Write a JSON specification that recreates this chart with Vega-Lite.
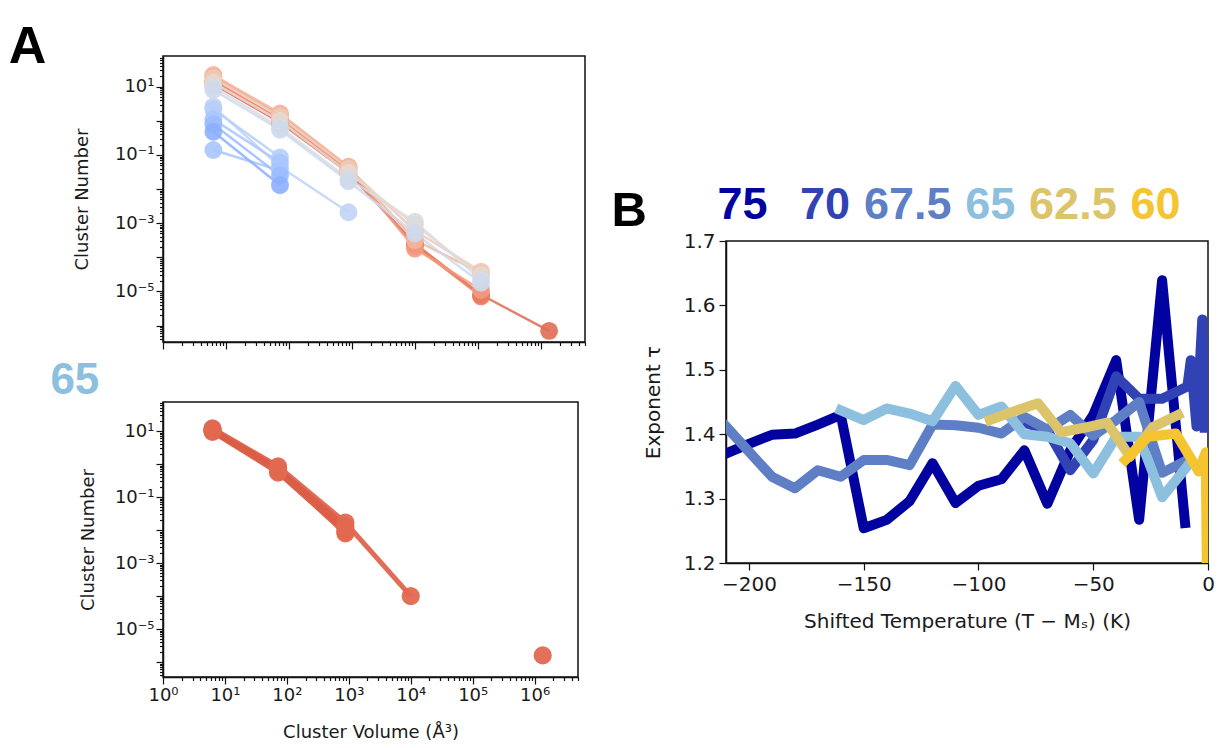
{
  "$schema": "https://vega.github.io/schema/vega-lite/v6.json",
  "background": "white",
  "padding": {"left": 8, "top": 21, "right": 5, "bottom": 5},
  "config": {
    "font": "DejaVu Sans",
    "view": {"stroke": "#111111", "strokeWidth": 1.5},
    "axis": {
      "grid": false,
      "domainColor": "#111111",
      "domainWidth": 1.5,
      "tickColor": "#111111",
      "tickWidth": 1.2,
      "labelColor": "#1a1a1a",
      "titleColor": "#1a1a1a",
      "labelFont": "DejaVu Sans",
      "titleFont": "DejaVu Sans",
      "titleFontWeight": "normal",
      "labelFlush": false,
      "labelOverlap": false
    }
  },
  "datasets": {
    "topA": [
      {"series": "t01", "volume": 6.3, "count": 12}, {"series": "t01", "volume": 72, "count": 0.9}, {"series": "t01", "volume": 880, "count": 0.03}, {"series": "t01", "volume": 10000, "count": 0.00025}, {"series": "t01", "volume": 112000, "count": 0.000008}, {"series": "t01", "volume": 1350000, "count": 0.0000007},
      {"series": "t02", "volume": 6.3, "count": 15}, {"series": "t02", "volume": 72, "count": 1.1}, {"series": "t02", "volume": 880, "count": 0.036}, {"series": "t02", "volume": 10000, "count": 0.00022}, {"series": "t02", "volume": 112000, "count": 0.0000072},
      {"series": "t03", "volume": 6.3, "count": 20}, {"series": "t03", "volume": 72, "count": 1.5}, {"series": "t03", "volume": 880, "count": 0.044}, {"series": "t03", "volume": 10000, "count": 0.00018}, {"series": "t03", "volume": 112000, "count": 0.000011},
      {"series": "t04", "volume": 6.3, "count": 22}, {"series": "t04", "volume": 72, "count": 1.65}, {"series": "t04", "volume": 880, "count": 0.045}, {"series": "t04", "volume": 10000, "count": 0.00032}, {"series": "t04", "volume": 112000, "count": 0.000035},
      {"series": "t05", "volume": 6.3, "count": 18}, {"series": "t05", "volume": 72, "count": 1.35}, {"series": "t05", "volume": 880, "count": 0.04}, {"series": "t05", "volume": 10000, "count": 0.0006}, {"series": "t05", "volume": 112000, "count": 0.000038},
      {"series": "t06", "volume": 6.3, "count": 13}, {"series": "t06", "volume": 72, "count": 1.0}, {"series": "t06", "volume": 880, "count": 0.03}, {"series": "t06", "volume": 10000, "count": 0.0009}, {"series": "t06", "volume": 112000, "count": 0.00003},
      {"series": "t07", "volume": 6.3, "count": 10}, {"series": "t07", "volume": 72, "count": 0.65}, {"series": "t07", "volume": 880, "count": 0.02}, {"series": "t07", "volume": 10000, "count": 0.0011}, {"series": "t07", "volume": 112000, "count": 0.000022},
      {"series": "t08", "volume": 6.3, "count": 8}, {"series": "t08", "volume": 72, "count": 0.55}, {"series": "t08", "volume": 880, "count": 0.017}, {"series": "t08", "volume": 10000, "count": 0.0005}, {"series": "t08", "volume": 112000, "count": 0.000018},
      {"series": "t09", "volume": 6.3, "count": 2.6}, {"series": "t09", "volume": 72, "count": 0.045}, {"series": "t09", "volume": 880, "count": 0.0021},
      {"series": "t10", "volume": 6.3, "count": 2.2}, {"series": "t10", "volume": 72, "count": 0.085},
      {"series": "t11", "volume": 6.3, "count": 1.1}, {"series": "t11", "volume": 72, "count": 0.06},
      {"series": "t12", "volume": 6.3, "count": 0.14}, {"series": "t12", "volume": 72, "count": 0.035},
      {"series": "t13", "volume": 6.3, "count": 0.8}, {"series": "t13", "volume": 72, "count": 0.025},
      {"series": "t14", "volume": 6.3, "count": 0.48}, {"series": "t14", "volume": 72, "count": 0.013}
    ],
    "bottomA": [
      {"series": "b1", "volume": 6.3, "count": 12}, {"series": "b1", "volume": 72, "count": 0.85}, {"series": "b1", "volume": 880, "count": 0.017}, {"series": "b1", "volume": 10000, "count": 0.0001},
      {"series": "b2", "volume": 6.3, "count": 10.5}, {"series": "b2", "volume": 72, "count": 0.7}, {"series": "b2", "volume": 880, "count": 0.013},
      {"series": "b3", "volume": 6.3, "count": 9.5}, {"series": "b3", "volume": 72, "count": 0.55}, {"series": "b3", "volume": 880, "count": 0.009},
      {"series": "b4", "volume": 6.3, "count": 11}, {"series": "b4", "volume": 72, "count": 0.75}, {"series": "b4", "volume": 880, "count": 0.011},
      {"series": "b5", "volume": 6.3, "count": 10}, {"series": "b5", "volume": 72, "count": 0.6}, {"series": "b5", "volume": 880, "count": 0.008},
      {"series": "b6", "volume": 1350000, "count": 0.0000016}
    ],
    "tau": [
      {"Ni": "75", "T": -210, "tau": 1.370}, {"Ni": "75", "T": -200, "tau": 1.385}, {"Ni": "75", "T": -190, "tau": 1.399}, {"Ni": "75", "T": -180, "tau": 1.401}, {"Ni": "75", "T": -170, "tau": 1.415}, {"Ni": "75", "T": -160, "tau": 1.430}, {"Ni": "75", "T": -150, "tau": 1.254}, {"Ni": "75", "T": -140, "tau": 1.267}, {"Ni": "75", "T": -130, "tau": 1.296}, {"Ni": "75", "T": -120, "tau": 1.355}, {"Ni": "75", "T": -110, "tau": 1.293}, {"Ni": "75", "T": -100, "tau": 1.320}, {"Ni": "75", "T": -90, "tau": 1.330}, {"Ni": "75", "T": -80, "tau": 1.375}, {"Ni": "75", "T": -70, "tau": 1.292}, {"Ni": "75", "T": -60, "tau": 1.375}, {"Ni": "75", "T": -50, "tau": 1.430}, {"Ni": "75", "T": -40, "tau": 1.515}, {"Ni": "75", "T": -30, "tau": 1.267}, {"Ni": "75", "T": -20, "tau": 1.639}, {"Ni": "75", "T": -10, "tau": 1.262},
      {"Ni": "70", "T": -80, "tau": 1.418}, {"Ni": "70", "T": -70, "tau": 1.406}, {"Ni": "70", "T": -60, "tau": 1.344}, {"Ni": "70", "T": -50, "tau": 1.391}, {"Ni": "70", "T": -40, "tau": 1.490}, {"Ni": "70", "T": -30, "tau": 1.455}, {"Ni": "70", "T": -20, "tau": 1.455}, {"Ni": "70", "T": -9, "tau": 1.474}, {"Ni": "70", "T": -7.5, "tau": 1.515}, {"Ni": "70", "T": -5, "tau": 1.412}, {"Ni": "70", "T": -2.5, "tau": 1.578}, {"Ni": "70", "T": -1.5, "tau": 1.41},
      {"Ni": "67.5", "T": -210, "tau": 1.412}, {"Ni": "67.5", "T": -200, "tau": 1.373}, {"Ni": "67.5", "T": -190, "tau": 1.334}, {"Ni": "67.5", "T": -180, "tau": 1.316}, {"Ni": "67.5", "T": -170, "tau": 1.344}, {"Ni": "67.5", "T": -160, "tau": 1.334}, {"Ni": "67.5", "T": -150, "tau": 1.360}, {"Ni": "67.5", "T": -140, "tau": 1.360}, {"Ni": "67.5", "T": -130, "tau": 1.352}, {"Ni": "67.5", "T": -120, "tau": 1.415}, {"Ni": "67.5", "T": -110, "tau": 1.414}, {"Ni": "67.5", "T": -100, "tau": 1.410}, {"Ni": "67.5", "T": -90, "tau": 1.401}, {"Ni": "67.5", "T": -80, "tau": 1.427}, {"Ni": "67.5", "T": -70, "tau": 1.407}, {"Ni": "67.5", "T": -60, "tau": 1.430}, {"Ni": "67.5", "T": -50, "tau": 1.398}, {"Ni": "67.5", "T": -40, "tau": 1.422}, {"Ni": "67.5", "T": -30, "tau": 1.450}, {"Ni": "67.5", "T": -20, "tau": 1.340}, {"Ni": "67.5", "T": -10, "tau": 1.358},
      {"Ni": "65", "T": -160, "tau": 1.437}, {"Ni": "65", "T": -150, "tau": 1.422}, {"Ni": "65", "T": -140, "tau": 1.440}, {"Ni": "65", "T": -130, "tau": 1.432}, {"Ni": "65", "T": -120, "tau": 1.420}, {"Ni": "65", "T": -110, "tau": 1.475}, {"Ni": "65", "T": -100, "tau": 1.430}, {"Ni": "65", "T": -90, "tau": 1.443}, {"Ni": "65", "T": -80, "tau": 1.400}, {"Ni": "65", "T": -70, "tau": 1.396}, {"Ni": "65", "T": -60, "tau": 1.386}, {"Ni": "65", "T": -50, "tau": 1.339}, {"Ni": "65", "T": -40, "tau": 1.396}, {"Ni": "65", "T": -30, "tau": 1.396}, {"Ni": "65", "T": -20, "tau": 1.302}, {"Ni": "65", "T": -8, "tau": 1.355},
      {"Ni": "62.5", "T": -95, "tau": 1.422}, {"Ni": "62.5", "T": -85, "tau": 1.435}, {"Ni": "62.5", "T": -74, "tau": 1.448}, {"Ni": "62.5", "T": -64, "tau": 1.403}, {"Ni": "62.5", "T": -54, "tau": 1.410}, {"Ni": "62.5", "T": -44, "tau": 1.418}, {"Ni": "62.5", "T": -34, "tau": 1.365}, {"Ni": "62.5", "T": -24, "tau": 1.411}, {"Ni": "62.5", "T": -13, "tau": 1.430},
      {"Ni": "60", "T": -36, "tau": 1.360}, {"Ni": "60", "T": -26, "tau": 1.396}, {"Ni": "60", "T": -14, "tau": 1.401}, {"Ni": "60", "T": -4, "tau": 1.342}, {"Ni": "60", "T": -1, "tau": 1.372}, {"Ni": "60", "T": 0, "tau": 1.0}
    ],
    "labels": [
      {"Ni": "75"}, {"Ni": "70"}, {"Ni": "67.5"}, {"Ni": "65"}, {"Ni": "62.5"}, {"Ni": "60"}
    ]
  },
  "resolve": {"scale": {"color": "independent"}},
  "spacing": 24,
  "hconcat": [
    {
      "title": {"text": "A", "anchor": "start", "frame": "bounds", "fontSize": 52, "font": "Liberation Sans", "fontWeight": "bold", "color": "#000000", "dx": -41, "offset": -67, "baseline": "alphabetic"},
      "spacing": 7,
      "vconcat": [
        {
          "width": 422,
          "height": 286,
          "data": {"name": "topA"},
          "encoding": {
            "x": {"field": "volume", "type": "quantitative",
              "scale": {"type": "log", "domain": [1, 5011872], "nice": false},
              "axis": {"title": null, "labels": false,
                "values": [1,2,3,4,5,6,7,8,9,10,20,30,40,50,60,70,80,90,100,200,300,400,500,600,700,800,900,1000,2000,3000,4000,5000,6000,7000,8000,9000,10000,20000,30000,40000,50000,60000,70000,80000,90000,100000,200000,300000,400000,500000,600000,700000,800000,900000,1000000,2000000,3000000,4000000,5000000],
                "tickSize": {"condition": {"test": "abs(log(datum.value)/LN10 - round(log(datum.value)/LN10)) < 1e-6", "value": 7}, "value": 3.5}}},
            "y": {"field": "count", "type": "quantitative",
              "scale": {"type": "log", "domain": [3.3e-7, 79.4], "nice": false},
              "axis": {"title": "Cluster Number", "titleFontSize": 18, "labelFontSize": 18, "titlePadding": 23,
                "values": [4e-7,5e-7,6e-7,7e-7,8e-7,9e-7,1e-6,2e-6,3e-6,4e-6,5e-6,6e-6,7e-6,8e-6,9e-6,1e-5,2e-5,3e-5,4e-5,5e-5,6e-5,7e-5,8e-5,9e-5,1e-4,2e-4,3e-4,4e-4,5e-4,6e-4,7e-4,8e-4,9e-4,0.001,0.002,0.003,0.004,0.005,0.006,0.007,0.008,0.009,0.01,0.02,0.03,0.04,0.05,0.06,0.07,0.08,0.09,0.1,0.2,0.3,0.4,0.5,0.6,0.7,0.8,0.9,1,2,3,4,5,6,7,8,9,10,20,30,40,50,60,70],
                "tickSize": {"condition": {"test": "abs(log(datum.value)/LN10 - round(log(datum.value)/LN10)) < 1e-6", "value": 7}, "value": 3.5},
                "labelExpr": "(abs(log(datum.value)/LN10 - round(log(datum.value)/LN10)) < 1e-6 && round(log(datum.value)/LN10) % 2 != 0) ? '10' + (datum.value < 1 ? '⁻' : '') + ['⁰','¹','²','³','⁴','⁵','⁶','⁷','⁸','⁹'][abs(round(log(datum.value)/LN10))] : ''"}},
            "color": {"field": "series", "type": "nominal",
              "scale": {"domain": ["t01","t02","t03","t04","t05","t06","t07","t08","t09","t10","t11","t12","t13","t14"],
                "range": ["#e16a53","#ea7b60","#f29a7e","#f5b59b","#efc9b6","#e5d8d1","#dadcdf","#cdd9ec","#c0d4f5","#b6cefa","#a9c5fe","#a9c5fe","#9abbff","#8caffe"]},
              "legend": null}
          },
          "layer": [
            {"mark": {"type": "line", "strokeWidth": 2.5, "opacity": 0.85}},
            {"mark": {"type": "circle", "size": 320, "opacity": 0.9}}
          ]
        },
        {
          "width": 415,
          "height": 275,
          "title": {"text": "65", "anchor": "start", "frame": "bounds", "fontSize": 44, "font": "Liberation Sans", "fontWeight": "bold", "color": "#8dc0de", "dx": -29, "offset": -44, "baseline": "alphabetic"},
          "data": {"name": "bottomA"},
          "encoding": {
            "x": {"field": "volume", "type": "quantitative",
              "scale": {"type": "log", "domain": [1, 5011872], "nice": false},
              "axis": {"title": "Cluster Volume (Å³)", "titleFontSize": 18, "labelFontSize": 18, "titlePadding": 19,
                "values": [1,2,3,4,5,6,7,8,9,10,20,30,40,50,60,70,80,90,100,200,300,400,500,600,700,800,900,1000,2000,3000,4000,5000,6000,7000,8000,9000,10000,20000,30000,40000,50000,60000,70000,80000,90000,100000,200000,300000,400000,500000,600000,700000,800000,900000,1000000,2000000,3000000,4000000,5000000],
                "tickSize": {"condition": {"test": "abs(log(datum.value)/LN10 - round(log(datum.value)/LN10)) < 1e-6", "value": 7}, "value": 3.5},
                "labelExpr": "(abs(log(datum.value)/LN10 - round(log(datum.value)/LN10)) < 1e-6) ? '10' + ['⁰','¹','²','³','⁴','⁵','⁶','⁷','⁸','⁹'][abs(round(log(datum.value)/LN10))] : ''"}},
            "y": {"field": "count", "type": "quantitative",
              "scale": {"type": "log", "domain": [3.55e-7, 75.9], "nice": false},
              "axis": {"title": "Cluster Number", "titleFontSize": 18, "labelFontSize": 18, "titlePadding": 17,
                "values": [4e-7,5e-7,6e-7,7e-7,8e-7,9e-7,1e-6,2e-6,3e-6,4e-6,5e-6,6e-6,7e-6,8e-6,9e-6,1e-5,2e-5,3e-5,4e-5,5e-5,6e-5,7e-5,8e-5,9e-5,1e-4,2e-4,3e-4,4e-4,5e-4,6e-4,7e-4,8e-4,9e-4,0.001,0.002,0.003,0.004,0.005,0.006,0.007,0.008,0.009,0.01,0.02,0.03,0.04,0.05,0.06,0.07,0.08,0.09,0.1,0.2,0.3,0.4,0.5,0.6,0.7,0.8,0.9,1,2,3,4,5,6,7,8,9,10,20,30,40,50,60,70],
                "tickSize": {"condition": {"test": "abs(log(datum.value)/LN10 - round(log(datum.value)/LN10)) < 1e-6", "value": 7}, "value": 3.5},
                "labelExpr": "(abs(log(datum.value)/LN10 - round(log(datum.value)/LN10)) < 1e-6 && round(log(datum.value)/LN10) % 2 != 0) ? '10' + (datum.value < 1 ? '⁻' : '') + ['⁰','¹','²','³','⁴','⁵','⁶','⁷','⁸','⁹'][abs(round(log(datum.value)/LN10))] : ''"}},
            "detail": {"field": "series", "type": "nominal"}
          },
          "layer": [
            {"mark": {"type": "line", "strokeWidth": 5, "color": "#dc5d46", "opacity": 0.9}},
            {"mark": {"type": "circle", "size": 330, "color": "#e2684f", "opacity": 0.95}}
          ]
        }
      ]
    },
    {
      "spacing": -6,
      "vconcat": [
        {
          "width": 446,
          "height": 163,
          "view": {"stroke": null},
          "title": {"text": "B", "anchor": "start", "frame": "bounds", "fontSize": 49, "font": "Liberation Sans", "fontWeight": "bold", "color": "#000000", "dx": -106, "offset": -219, "baseline": "alphabetic"},
          "data": {"name": "labels"},
          "mark": {"type": "text", "font": "Liberation Sans", "fontWeight": "bold", "fontSize": 45, "baseline": "alphabetic"},
          "encoding": {
            "x": {"field": "Ni", "type": "nominal", "sort": null, "scale": {"type": "point", "padding": 0.2}, "axis": null},
            "y": {"datum": 0, "type": "quantitative", "scale": {"domain": [0, 1]}, "axis": null},
            "text": {"field": "Ni"},
            "color": {"field": "Ni", "type": "nominal",
              "scale": {"domain": ["75","70","67.5","65","62.5","60"], "range": ["#0202a0","#3143b4","#5e7fc6","#8dc0de","#dcc46a","#f5c431"]},
              "legend": null}
          }
        },
        {
          "width": 482,
          "height": 322,
          "data": {"name": "tau"},
          "mark": {"type": "line", "strokeWidth": 10, "clip": true, "strokeCap": "square", "strokeJoin": "round"},
          "encoding": {
            "x": {"field": "T", "type": "quantitative",
              "scale": {"domain": [-210, 0], "nice": false, "zero": false},
              "axis": {"title": "Shifted Temperature (T − Mₛ) (K)", "values": [-200, -150, -100, -50, 0], "format": "d", "tickSize": 7, "labelFontSize": 20, "titleFontSize": 20, "labelPadding": 4, "titlePadding": 17}},
            "y": {"field": "tau", "type": "quantitative",
              "scale": {"domain": [1.2, 1.7], "nice": false, "zero": false},
              "axis": {"title": "Exponent τ", "values": [1.2, 1.3, 1.4, 1.5, 1.6, 1.7], "format": ".1f", "tickSize": 7, "labelFontSize": 20, "titleFontSize": 20, "labelPadding": 4, "titlePadding": 20}},
            "color": {"field": "Ni", "type": "nominal", "sort": null,
              "scale": {"domain": ["75","70","67.5","65","62.5","60"], "range": ["#0202a0","#3143b4","#5e7fc6","#8dc0de","#dcc46a","#f5c431"]},
              "legend": null}
          }
        }
      ]
    }
  ]
}
